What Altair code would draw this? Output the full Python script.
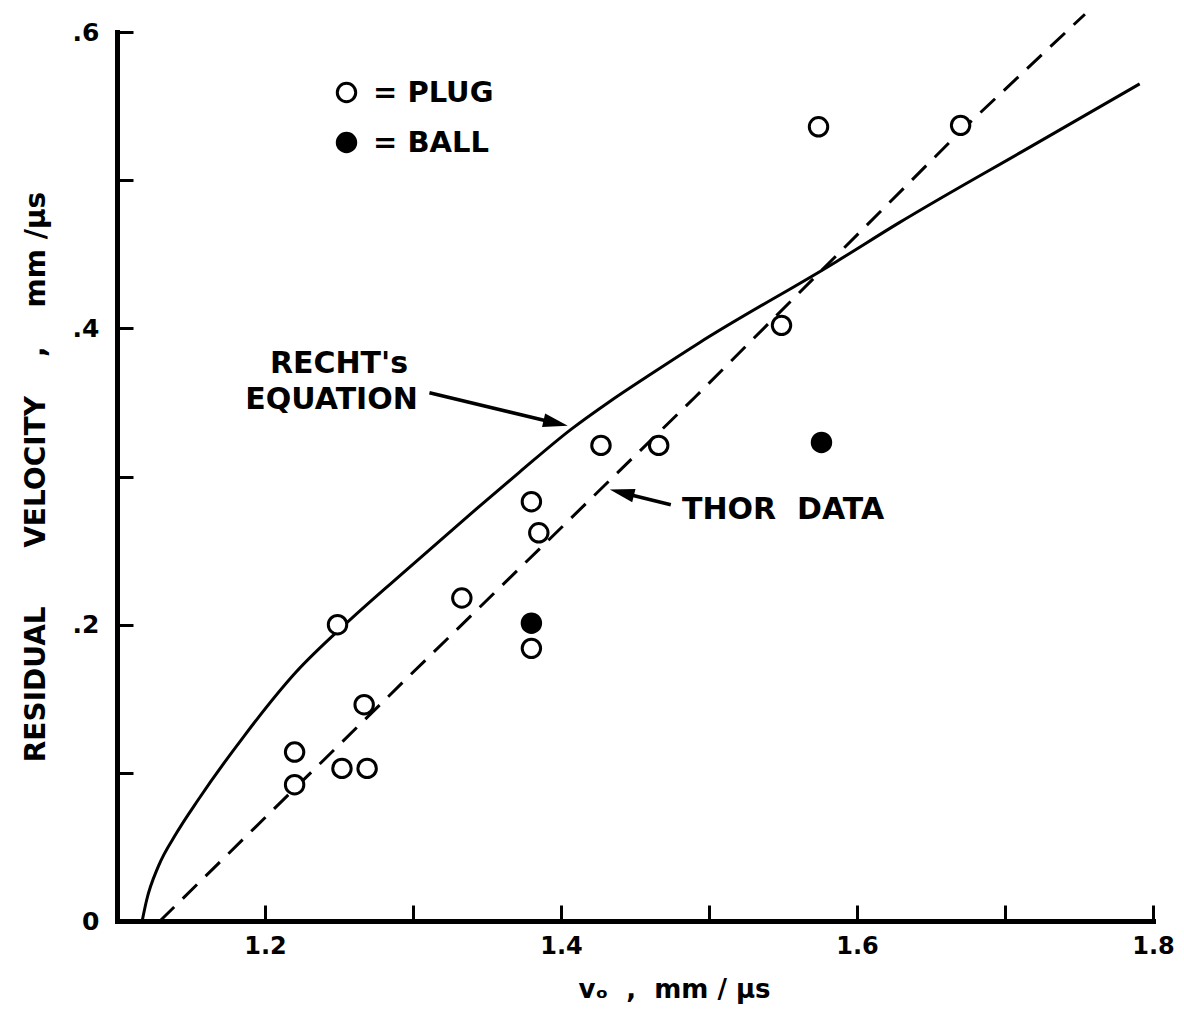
import altair as alt
import pandas as pd

# ---------------- data ----------------
plug_v0 = [1.220, 1.220, 1.249, 1.252, 1.267, 1.269, 1.333, 1.380, 1.385, 1.380, 1.427, 1.466, 1.549, 1.574, 1.670]
plug_vr = [0.114, 0.092, 0.200, 0.103, 0.146, 0.103, 0.218, 0.283, 0.262, 0.184, 0.321, 0.321, 0.402, 0.536, 0.537]
ball_v0 = [1.380, 1.576]
ball_vr = [0.201, 0.323]

recht_v0 = [1.117, 1.120, 1.128, 1.140, 1.155, 1.186, 1.221, 1.255, 1.291, 1.338, 1.372, 1.407, 1.432, 1.459, 1.493, 1.586, 1.628, 1.718, 1.791]
recht_vr = [0.000, 0.014, 0.037, 0.059, 0.082, 0.125, 0.168, 0.201, 0.233, 0.274, 0.303, 0.332, 0.350, 0.368, 0.390, 0.445, 0.471, 0.523, 0.565]

thor_v0 = [1.129, 1.293, 1.491, 1.671, 1.754]
thor_vr = [0.000, 0.161, 0.354, 0.534, 0.612]

x_tick_values = [1.2, 1.3, 1.4, 1.5, 1.6, 1.7, 1.8]
x_label_values = [1.2, 1.4, 1.6, 1.8]
y_tick_values = [0.1, 0.2, 0.3, 0.4, 0.5, 0.6]
y_label_values = [0.0, 0.2, 0.4, 0.6]

series_names = ["PLUG", "BALL"]

# annotations
recht_text = ["RECHT's", "EQUATION"]
recht_text_v0 = [1.250, 1.245]
recht_text_vr = [0.3756, 0.3518]
thor_text = ["THOR\u00a0\u00a0DATA"]
thor_text_v0 = [1.4817]
thor_text_vr = [0.2775]
arrow_start_v0 = [1.3111, 1.4742]
arrow_start_vr = [0.3565, 0.2809]
arrow_end_v0 = [1.3955, 1.4420]
arrow_end_vr = [0.3363, 0.2889]
arrow_angle = [103, 284]

# ---------------- layout ----------------
W, H = 1036, 889
FONT = "DejaVu Sans"
xs = alt.Scale(domain=[1.1, 1.8], nice=False, zero=False)
ys = alt.Scale(domain=[0, 0.6], nice=False, zero=False)

x_main_axis = alt.Axis(
    orient="bottom", values=x_label_values, format=".1f", ticks=False, grid=False,
    domain=True, domainColor="black", domainWidth=5, domainCap="square",
    labelFont=FONT, labelFontSize=24, labelFontWeight="bold", labelColor="black",
    labelPadding=13, labelFlush=False,
    title="v\u2092\u00a0\u00a0,\u00a0\u00a0mm\u00a0/\u00a0µs", titleFont=FONT, titleFontSize=26,
    titleFontWeight="bold", titleColor="black", titlePadding=18,
    titleX=557, titleAlign="center",
)
y_main_axis = alt.Axis(
    orient="left", values=y_label_values, ticks=False, grid=False,
    labelExpr="datum.value == 0 ? '0' : replace(format(datum.value, '.1f'), '0.', '.')",
    domain=True, domainColor="black", domainWidth=5, domainCap="square",
    labelFont=FONT, labelFontSize=25, labelFontWeight="bold", labelColor="black",
    labelPadding=18, labelFlush=False,
    title="RESIDUAL\u00a0\u00a0\u00a0\u00a0\u00a0\u00a0VELOCITY\u00a0\u00a0\u00a0\u00a0,\u00a0\u00a0\u00a0\u00a0mm\u00a0/µs",
    titleFont=FONT, titleFontSize=28, titleFontWeight="bold", titleColor="black", titlePadding=22,
)
x_tick_axis = alt.Axis(
    orient="top", offset=-H, values=x_tick_values, labels=False, domain=False, grid=False,
    ticks=True, tickSize=16, tickWidth=3, tickColor="black", title=None,
)
y_tick_axis = alt.Axis(
    orient="right", offset=-W, values=y_tick_values, labels=False, domain=False, grid=False,
    ticks=True, tickSize=16, tickWidth=3, tickColor="black", title=None,
)

recht_df = pd.DataFrame({"v0": recht_v0, "vr": recht_vr})
thor_df = pd.DataFrame({"v0": thor_v0, "vr": thor_vr})
pts_df = pd.DataFrame({
    "v0": plug_v0 + ball_v0,
    "vr": plug_vr + ball_vr,
    "type": [series_names[0]] * len(plug_v0) + [series_names[1]] * len(ball_v0),
})
recht_txt_df = pd.DataFrame({"v0": recht_text_v0, "vr": recht_text_vr, "t": recht_text})
thor_txt_df = pd.DataFrame({"v0": thor_text_v0, "vr": thor_text_vr, "t": thor_text})
arrow_df = pd.DataFrame({"x0": arrow_start_v0, "y0": arrow_start_vr,
                         "x1": arrow_end_v0, "y1": arrow_end_vr, "ang": arrow_angle})

solid = alt.Chart(recht_df).mark_line(color="black", strokeWidth=3, interpolate="monotone").encode(
    x=alt.X("v0:Q", scale=xs, axis=x_tick_axis),
    y=alt.Y("vr:Q", scale=ys, axis=y_tick_axis),
)
dashed = alt.Chart(thor_df).mark_line(color="black", strokeWidth=3, strokeDash=[20, 12]).encode(
    x=alt.X("v0:Q", scale=xs, axis=x_main_axis),
    y=alt.Y("vr:Q", scale=ys, axis=y_main_axis),
)
arrows = alt.Chart(arrow_df).mark_rule(color="black", strokeWidth=3.5).encode(
    x=alt.X("x0:Q", scale=xs, axis=None),
    y=alt.Y("y0:Q", scale=ys, axis=None),
    x2="x1:Q", y2="y1:Q",
)
heads = alt.Chart(arrow_df).mark_point(
    shape="M0,-1L0.5,0.8L-0.5,0.8Z", filled=True, color="black", size=760, opacity=1
).encode(
    x=alt.X("x1:Q", scale=xs, axis=None),
    y=alt.Y("y1:Q", scale=ys, axis=None),
    angle=alt.Angle("ang:Q", scale=None),
)
recht_lbl = alt.Chart(recht_txt_df).mark_text(
    font=FONT, fontSize=30, fontWeight="bold", color="black", align="center", baseline="middle"
).encode(
    x=alt.X("v0:Q", scale=xs, axis=None), y=alt.Y("vr:Q", scale=ys, axis=None), text="t:N",
)
thor_lbl = alt.Chart(thor_txt_df).mark_text(
    font=FONT, fontSize=30, fontWeight="bold", color="black", align="left", baseline="middle"
).encode(
    x=alt.X("v0:Q", scale=xs, axis=None), y=alt.Y("vr:Q", scale=ys, axis=None), text="t:N",
)
points = alt.Chart(pts_df).mark_point(
    filled=True, size=340, stroke="black", strokeWidth=3, opacity=1
).encode(
    x=alt.X("v0:Q", scale=xs, axis=None),
    y=alt.Y("vr:Q", scale=ys, axis=None),
    fill=alt.Fill("type:N", scale=alt.Scale(domain=series_names, range=["white", "black"]),
                  legend=alt.Legend(
                      orient="none", legendX=215, legendY=46, title=None, padding=0,
                      symbolType="circle", symbolSize=340, symbolStrokeColor="black",
                      symbolStrokeWidth=3, labelFont=FONT, labelFontSize=29,
                      labelFontWeight="bold", labelColor="black",
                      labelExpr="'= ' + datum.label", labelOffset=12, rowPadding=19,
                  )),
)

chart = alt.layer(solid, dashed, arrows, heads, recht_lbl, thor_lbl, points).properties(
    width=W, height=H,
    padding={"left": 109, "top": 24, "right": 23, "bottom": 85},
    autosize=alt.AutoSizeParams(type="none"),
).resolve_axis(x="independent", y="independent").configure(
    background="white", font=FONT
).configure_view(stroke="transparent", strokeWidth=0)

chart.save("out.html", embed_options={"renderer": "svg", "actions": False})
